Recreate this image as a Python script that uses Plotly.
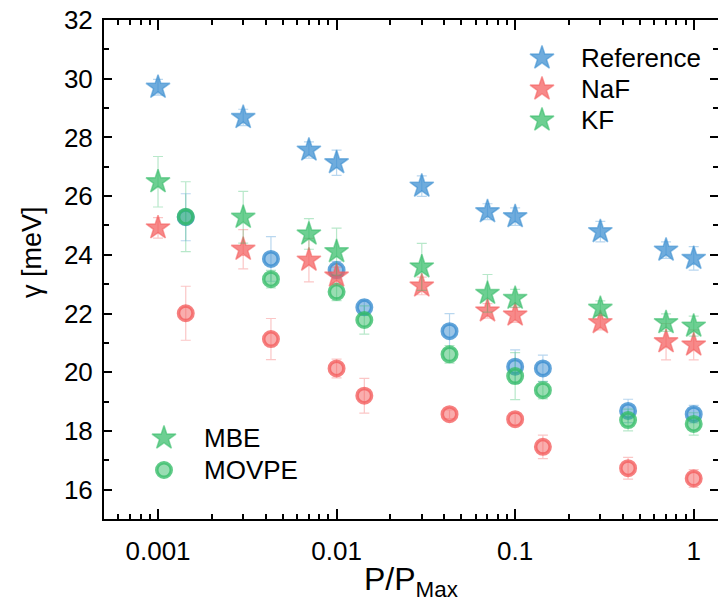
import plotly.graph_objects as go

# Excitation power relative to maximum
p_mbe = [0.001, 0.003, 0.007, 0.01, 0.03, 0.07, 0.1, 0.3, 0.7, 1.0]
p_movpe = [0.00143, 0.00429, 0.01, 0.0143, 0.0429, 0.1, 0.143, 0.429, 1.0]

# Linewidth gamma [meV], MBE samples
ref_mbe = [29.71, 28.68, 27.57, 27.14, 26.34, 25.47, 25.30, 24.79, 24.16, 23.88]
ref_mbe_err = [0.27, 0.28, 0.28, 0.43, 0.35, 0.27, 0.30, 0.35, 0.28, 0.40]
naf_mbe = [24.92, 24.19, 23.82, 23.28, 22.94, 22.09, 21.95, 21.69, 21.04, 20.93]
naf_mbe_err = [0.35, 0.67, 0.74, 0.30, 0.30, 0.25, 0.25, 0.25, 0.62, 0.51]
kf_mbe = [26.49, 25.28, 24.71, 24.11, 23.59, 22.69, 22.52, 22.18, 21.69, 21.57]
kf_mbe_err = [0.86, 0.88, 0.52, 0.80, 0.80, 0.64, 0.30, 0.25, 0.30, 0.34]

# Linewidth gamma [meV], MOVPE samples
ref_movpe = [25.28, 23.86, 23.48, 22.21, 21.40, 20.19, 20.13, 18.68, 18.57]
ref_movpe_err = [0.80, 0.76, 0.30, 0.25, 0.60, 0.57, 0.45, 0.40, 0.30]
kf_movpe = [25.30, 23.17, 22.74, 21.78, 20.61, 19.87, 19.39, 18.37, 18.24]
kf_movpe_err = [1.19, 0.30, 0.30, 0.48, 0.30, 0.80, 0.30, 0.37, 0.38]
naf_movpe = [22.01, 21.13, 20.13, 19.20, 18.57, 18.40, 17.46, 16.73, 16.38]
naf_movpe_err = [0.92, 0.70, 0.32, 0.59, 0.15, 0.20, 0.40, 0.37, 0.30]

x_ticks = [0.001, 0.01, 0.1, 1]
x_tick_text = ["0.001", "0.01", "0.1", "1"]
x_minor = [m * 10.0 ** e for e in range(-4, 1) for m in range(2, 10)]

# key entries
sample_names = ["Reference", "NaF", "KF"]
growth_names = ["MBE", "MOVPE"]

BLUE = (55, 140, 208)
RED = (244, 92, 92)
GREEN = (52, 188, 104)
FONT = "Liberation Sans, Arial, sans-serif"

W, H = 718, 614
L, R, T, B = 104, 0, 20, 95
PW, PH = W - L - R, H - T - B


def px_x(px):
    return (px - L) / PW


def px_y(py):
    return (H - B - py) / PH


def rgba(c, a):
    return f"rgba({c[0]},{c[1]},{c[2]},{a})"


def err(vals, c):
    return dict(type="data", array=vals, visible=True, color=rgba(c, 0.35),
                thickness=1.2, width=5)


def star(c):
    return dict(symbol="star", size=18, color=rgba(c, 0.72),
                line=dict(color=rgba(c, 0.55), width=1.5))


def ring(c):
    return dict(symbol="circle", size=14.5, color=rgba(c, 0.5),
                line=dict(color=rgba(c, 0.78), width=3.5))


fig = go.Figure()

for y, e, c in [(ref_movpe, ref_movpe_err, BLUE), (kf_movpe, kf_movpe_err, GREEN),
                (naf_movpe, naf_movpe_err, RED)]:
    fig.add_trace(go.Scatter(x=p_movpe, y=y, mode="markers", marker=ring(c),
                             error_y=err(e, c), showlegend=False))

for name, y, e, c in [("Reference", ref_mbe, ref_mbe_err, BLUE),
                      ("NaF", naf_mbe, naf_mbe_err, RED),
                      ("KF", kf_mbe, kf_mbe_err, GREEN)]:
    fig.add_trace(go.Scatter(x=p_mbe, y=y, mode="markers", marker=star(c),
                             error_y=err(e, c), name=name, showlegend=False))

# Keys drawn on an invisible overlay frame spanning the plot area
annotations = []
key1_rows = [58, 89, 120]
for name, c, py in zip(sample_names, [BLUE, RED, GREEN], key1_rows):
    fig.add_trace(go.Scatter(x=[px_x(542)], y=[px_y(py)], mode="markers",
                             marker=star(c), xaxis="x2", yaxis="y3",
                             showlegend=False, hoverinfo="skip"))
    annotations.append(dict(text=name, xref="paper", yref="paper",
                            x=px_x(579), y=px_y(py), xanchor="left",
                            yanchor="middle", showarrow=False,
                            font=dict(family=FONT, size=26, color="black")))

key2_rows = [438, 470]
for name, mk, py in zip(growth_names, [star(GREEN), ring(GREEN)], key2_rows):
    fig.add_trace(go.Scatter(x=[px_x(164)], y=[px_y(py)], mode="markers",
                             marker=mk, xaxis="x2", yaxis="y3",
                             showlegend=False, hoverinfo="skip"))
    annotations.append(dict(text=name, xref="paper", yref="paper",
                            x=px_x(202), y=px_y(py), xanchor="left",
                            yanchor="middle", showarrow=False,
                            font=dict(family=FONT, size=26, color="black")))

annotations += [
    dict(text="P/P<sub>Max</sub>", xref="paper", yref="paper",
         x=0.5, y=px_y(581), xanchor="center", yanchor="middle",
         showarrow=False, font=dict(family=FONT, size=32, color="black")),
    dict(text="γ [meV]", xref="paper", yref="paper", textangle=-90,
         x=px_x(32), y=px_y(252), xanchor="center", yanchor="middle",
         showarrow=False, font=dict(family=FONT, size=27, color="black")),
]

# dummy point so the right-hand tick axis is drawn
fig.add_trace(go.Scatter(x=[None], y=[None], yaxis="y2", showlegend=False))

fig.update_layout(
    width=W, height=H,
    margin=dict(l=L, r=R, t=T, b=B),
    plot_bgcolor="white", paper_bgcolor="white",
    showlegend=False,
    font=dict(family=FONT, size=26, color="black"),
    xaxis=dict(type="log", range=[-3.3025, 0.136],
               tickvals=x_ticks, ticktext=x_tick_text,
               ticks="inside", ticklen=10, tickwidth=2, tickcolor="black",
               showline=True, linewidth=2, linecolor="black", mirror="ticks",
               showgrid=False, zeroline=False, ticklabelstandoff=8,
               tickfont=dict(family=FONT, size=26, color="black"),
               minor=dict(tickvals=x_minor, ticks="inside", ticklen=5,
                          tickwidth=2, tickcolor="black", showgrid=False)),
    xaxis2=dict(range=[0, 1], overlaying="x", visible=False, fixedrange=True),
    yaxis=dict(range=[15, 32], tick0=0, dtick=2,
               ticks="inside", ticklen=8, tickwidth=2, tickcolor="black",
               showline=True, linewidth=2, linecolor="black",
               showgrid=False, zeroline=False, ticklabelstandoff=4,
               tickfont=dict(family=FONT, size=26, color="black"),
               minor=dict(dtick=1, ticks="inside", ticklen=5, tickwidth=2,
                          tickcolor="black", showgrid=False)),
    yaxis2=dict(range=[15, 32], tick0=0, dtick=2, overlaying="y", side="right",
                ticks="inside", ticklen=8, tickwidth=2, tickcolor="black",
                showline=False, showgrid=False, zeroline=False,
                showticklabels=False,
                minor=dict(dtick=1, ticks="inside", ticklen=5, tickwidth=2,
                           tickcolor="black", showgrid=False)),
    yaxis3=dict(range=[0, 1], overlaying="y", visible=False, fixedrange=True),
    annotations=annotations,
)

fig.write_html("out.html")
